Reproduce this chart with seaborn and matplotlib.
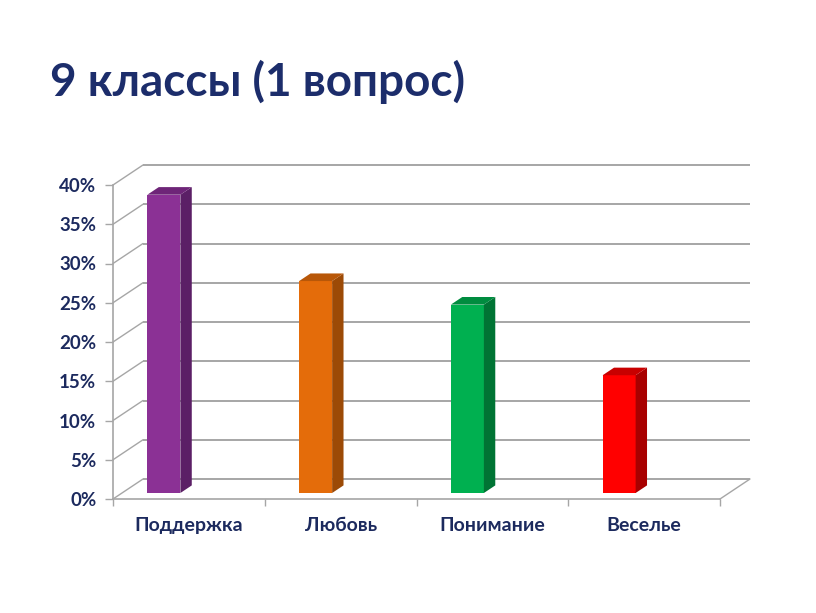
import matplotlib
matplotlib.use("Agg")
import matplotlib.pyplot as plt
from matplotlib.patches import Polygon
from matplotlib.transforms import Affine2D
from matplotlib.ticker import FixedLocator, FuncFormatter
import seaborn as sns

# ---- data ----
categories = ["Поддержка", "Любовь", "Понимание", "Веселье"]
values = [38, 27, 24, 15]
face_colors = ["#8B3195", "#E46C0A", "#00B050", "#FF0000"]
side_colors = ["#5B1F66", "#9C4A06", "#007434", "#A80000"]
top_colors = ["#6E2578", "#B85708", "#008C3F", "#C80000"]
y_ticks = [0, 5, 10, 15, 20, 25, 30, 35, 40]
title = "9 классы (1 вопрос)"

sns.set_style("white")
plt.rcParams["font.family"] = ["Lato", "DejaVu Sans"]

W, H = 816, 613
fig = plt.figure(figsize=(W / 100, H / 100), dpi=100)
left_px, right_px, zero_px, top_px = 113, 720, 499, 185
ax = fig.add_axes([left_px / W, (H - zero_px) / H, (right_px - left_px) / W, (zero_px - top_px) / H])

text_col = "#1C2A5E"
grid_col = "#A6A6A6"

# depth offsets (data units) for the pseudo-3D box
px_per_x = (right_px - left_px) / 4.0
px_per_y = (zero_px - top_px) / 40.0
DX = 30 / px_per_x
DY = 20 / px_per_y

ax.set_xlim(-0.5, 3.5)
ax.set_ylim(0, 40)

# bars through seaborn
bar_w = 33 / px_per_x
sns.barplot(x=categories, y=values, hue=categories, palette=face_colors,
            legend=False, width=bar_w, saturation=1, linewidth=0, ax=ax, zorder=3)

depth_front = 0.3
depth_len = 0.38
shift_x = -34 / px_per_x + depth_front * DX
shift_y = depth_front * DY
tr = Affine2D().translate(shift_x, shift_y) + ax.transData
for p in list(ax.patches):
    i = int(round(p.get_x() + p.get_width() / 2))
    p.set_transform(tr)
    p.set_clip_on(False)
    xl = p.get_x()
    xr = xl + p.get_width()
    h = p.get_height()
    ddx, ddy = depth_len * DX, depth_len * DY
    side = Polygon([(xr, 0), (xr, h), (xr + ddx, h + ddy), (xr + ddx, ddy)],
                   closed=True, facecolor=side_colors[i], edgecolor="none",
                   transform=tr, clip_on=False, zorder=3)
    top = Polygon([(xl, h), (xr, h), (xr + ddx, h + ddy), (xl + ddx, h + ddy)],
                  closed=True, facecolor=top_colors[i], edgecolor="none",
                  transform=tr, clip_on=False, zorder=3)
    ax.add_patch(side)
    ax.add_patch(top)

# back wall gridlines and side wall diagonals
for v in y_ticks:
    ax.plot([-0.5 + DX, 3.5 + DX], [v + DY, v + DY], color=grid_col, lw=1.4,
            clip_on=False, zorder=1, solid_capstyle="butt")
    ax.plot([-0.5, -0.5 + DX], [v, v + DY], color=grid_col, lw=1.0,
            clip_on=False, zorder=1)
ax.plot([3.5, 3.5 + DX], [0, DY], color=grid_col, lw=1.0, clip_on=False, zorder=1)

# spines / ticks
for s in ["top", "right"]:
    ax.spines[s].set_visible(False)
for s in ["left", "bottom"]:
    ax.spines[s].set_color(grid_col)
    ax.spines[s].set_linewidth(1.2)
ax.patch.set_alpha(0)

ax.set_yticks(y_ticks)
ax.yaxis.set_major_formatter(FuncFormatter(lambda v, _: f"{int(v)}%"))
ax.tick_params(axis="y", length=6, width=1, color=grid_col, pad=6,
               labelsize=13.5, labelcolor=text_col, left=True)
ax.set_xticks(range(len(categories)))
ax.set_xticklabels(categories)
ax.xaxis.set_minor_locator(FixedLocator([-0.5, 0.5, 1.5, 2.5, 3.5]))
ax.tick_params(axis="x", which="major", length=0, pad=13, labelsize=14, labelcolor=text_col)
ax.tick_params(axis="x", which="minor", length=5, width=1, color=grid_col, bottom=True)
for lab in ax.get_xticklabels() + ax.get_yticklabels():
    lab.set_fontweight("bold")
ax.set_xlabel("")
ax.set_ylabel("")

fig.text(50 / W, 1 - 96 / H, title, fontsize=33, fontweight="bold",
         color="#1C2D6B", ha="left", va="baseline")

fig.savefig("out.png", dpi=100)
